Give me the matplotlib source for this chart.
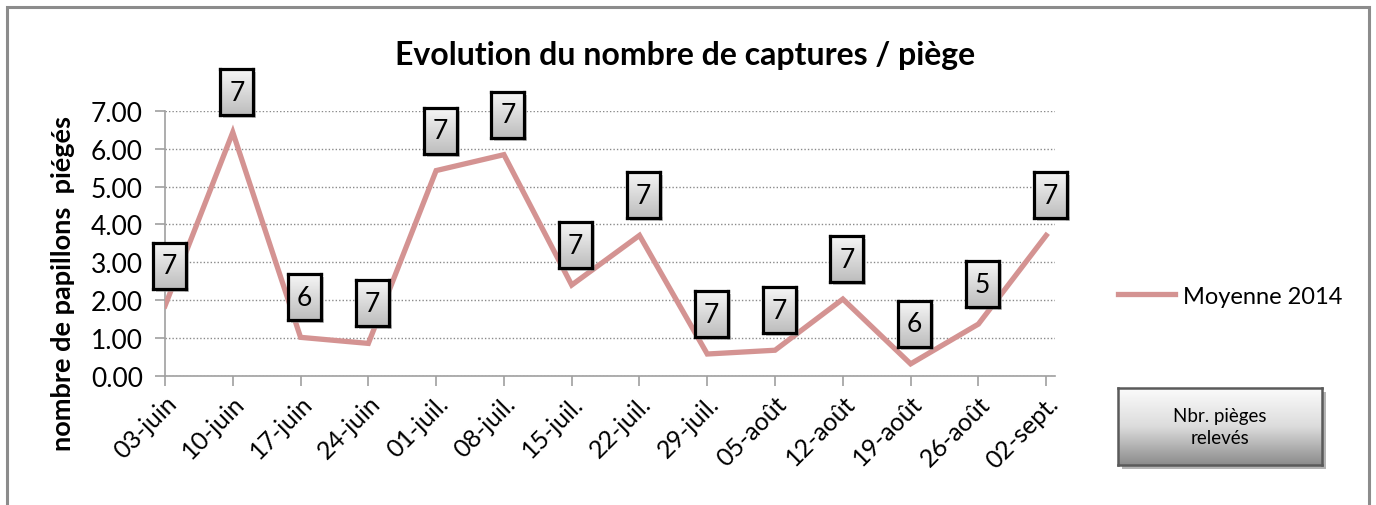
import matplotlib
matplotlib.use("Agg")
import matplotlib.pyplot as plt
from matplotlib.patches import Rectangle
import numpy as np

dates = ["03-juin", "10-juin", "17-juin", "24-juin", "01-juil.", "08-juil.", "15-juil.",
         "22-juil.", "29-juil.", "05-août", "12-août", "19-août", "26-août", "02-sept."]
moyenne_2014 = [1.85, 6.43, 1.02, 0.86, 5.42, 5.84, 2.40, 3.71, 0.58, 0.68, 2.03, 0.32, 1.37, 3.71]
nbr_pieges = [7, 7, 6, 7, 7, 7, 7, 7, 7, 7, 7, 6, 5, 7]
yticks = [0, 1, 2, 3, 4, 5, 6, 7]

plt.rcParams['font.family'] = ['Lato', 'DejaVu Sans']

W, H = 1376, 506
fig = plt.figure(figsize=(W / 100, H / 100), dpi=100)
fig.patch.set_facecolor('white')


def fx(px):
    return px / W


def fy(py_top):
    return 1 - py_top / H


# outer border
fig.patches.append(Rectangle((fx(7), -0.01), fx(1369 - 7), 1 - 8 / H + 0.01,
                             transform=fig.transFigure, fill=False,
                             edgecolor='#8c8c8c', linewidth=2.2, zorder=1))

ax = fig.add_axes([fx(165), fy(377), fx(1055 - 165), (377 - 111.7) / H], zorder=0)
x = np.arange(len(dates))
line, = ax.plot(x, moyenne_2014, color='#d49392', linewidth=3.8,
                solid_joinstyle='miter', label='Moyenne 2014', zorder=3)

ax.set_xlim(0, 13.13)
ax.set_ylim(0, 7)
ax.set_yticks(yticks)
ax.set_yticklabels([f"{v:.2f}" for v in yticks], fontsize=19)
ax.set_xticks(x)
ax.set_xticklabels(dates, rotation=45, ha='right', rotation_mode='anchor', fontsize=18)
ax.tick_params(axis='both', color='#a0a0a0', length=7, width=1.2)
ax.tick_params(axis='y', pad=9)
ax.tick_params(axis='x', pad=4)
ax.grid(axis='y', linestyle=(0, (1, 1.5)), color='#8a8a8a', linewidth=1.0)
for s in ['top', 'right']:
    ax.spines[s].set_visible(False)
for s in ['left', 'bottom']:
    ax.spines[s].set_color('#a0a0a0')
    ax.spines[s].set_linewidth(1.2)

ax.set_ylabel('nombre de papillons  piégés', fontsize=19.5, fontweight='bold')
ax.yaxis.set_label_coords(-0.101, 0.352)

fig.text(fx(685.5), fy(55), 'Evolution du nombre de captures / piège', fontsize=23,
         fontweight='bold', ha='center', va='center')

# data label boxes with gradient fill
fig.canvas.draw()
grad = np.linspace(0, 1, 64).reshape(-1, 1)
bw, bh = 33, 46
for xi, yi, n in zip(x, moyenne_2014, nbr_pieges):
    px, py = ax.transData.transform((xi, yi))
    cx, cy = px + 4, py + 40
    fig.patches.append(Rectangle(((cx - bw / 2 + 3) / W, (cy - bh / 2 - 3) / H), bw / W, bh / H,
                                 transform=fig.transFigure, facecolor='#9a9a9a',
                                 alpha=0.6, edgecolor='none', zorder=1))
    bax = fig.add_axes([(cx - bw / 2) / W, (cy - bh / 2) / H, bw / W, bh / H], zorder=2)
    bax.imshow(grad, cmap=matplotlib.colors.LinearSegmentedColormap.from_list(
        'g', ['#f6f6f6', '#bdbdbd']), aspect='auto', extent=(0, 1, 0, 1),
        interpolation='bilinear')
    bax.set_xlim(0, 1)
    bax.set_ylim(0, 1)
    bax.set_xticks([])
    bax.set_yticks([])
    for s in bax.spines.values():
        s.set_color('black')
        s.set_linewidth(2.3)
    bax.text(0.5, 0.5, str(n), ha='center', va='center', fontsize=19,
             transform=bax.transAxes)

leg = fig.legend(handles=[line], labels=['Moyenne 2014'], loc='center left',
                 bbox_to_anchor=(fx(1118), fy(297)), frameon=False,
                 fontsize=17, handlelength=2.4, handletextpad=0.34,
                 borderpad=0, borderaxespad=0)

# "Nbr. pièges relevés" box
fig.patches.append(Rectangle((fx(1122), fy(470)), fx(1326 - 1122), (470 - 393) / H,
                             transform=fig.transFigure, facecolor='#b4b4b4',
                             edgecolor='none', zorder=1))
nax = fig.add_axes([fx(1118), fy(466), fx(1322 - 1118), (466 - 389) / H], zorder=2)
nax.imshow(grad, cmap=matplotlib.colors.LinearSegmentedColormap.from_list(
    'g2', ['#fbfbfb', '#dcdcdc', '#8c8c8c']), aspect='auto', extent=(0, 1, 0, 1),
    interpolation='bilinear')
nax.set_xlim(0, 1)
nax.set_ylim(0, 1)
nax.set_xticks([])
nax.set_yticks([])
for s in nax.spines.values():
    s.set_color('#5a5a5a')
    s.set_linewidth(1.8)
nax.text(0.5, 0.5, 'Nbr. pièges\nrelevés', ha='center', va='center', fontsize=13.5,
         linespacing=1.3, transform=nax.transAxes)

fig.savefig('out.png', dpi=100)
